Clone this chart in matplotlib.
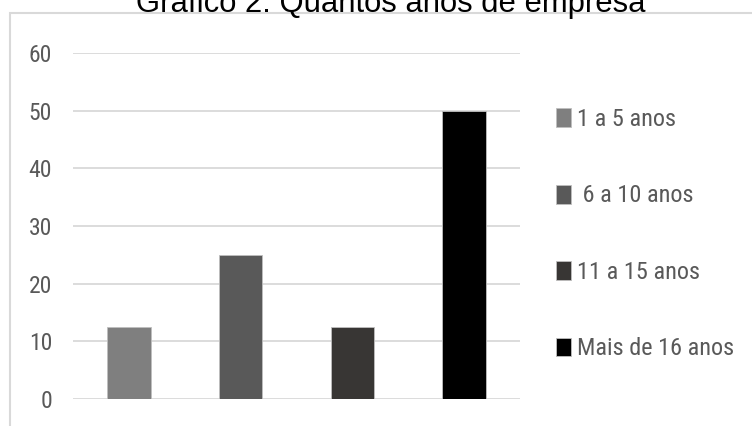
import matplotlib
matplotlib.use("Agg")
import matplotlib.pyplot as plt
from matplotlib.patches import Rectangle

categories = ["1 a 5 anos", " 6 a 10 anos", "11 a 15 anos", "Mais de 16 anos"]
values = [12.5, 25, 12.5, 50]
colors = ["#7f7f7f", "#595959", "#383634", "#000000"]
yticks = [0, 10, 20, 30, 40, 50, 60]

NARROW = ["Roboto Condensed", "Lato", "DejaVu Sans"]
W, H = 752, 426

fig = plt.figure(figsize=(W / 100, H / 100), dpi=100)
ax = fig.add_axes([73 / W, 1 - 399 / H, 447 / W, 346 / H])

for i, (cat, v, c) in enumerate(zip(categories, values, colors)):
    ax.bar(i, v, width=0.39, color=c, edgecolor="#bfbfbf",
           linewidth=0.6, label=cat, zorder=3)

ax.set_xlim(-0.5, len(categories) - 0.5)
ax.set_ylim(0, 60)
ax.set_yticks(yticks)
ax.set_yticklabels([str(t) for t in yticks], family=NARROW,
                   fontsize=17, color="#595959")
ax.tick_params(axis="y", length=0, pad=15)
ax.set_xticks([])
for s in ax.spines.values():
    s.set_visible(False)
ax.grid(axis="y", color="#d9d9d9", linewidth=1.3, zorder=0)

fs = 17.5
fpx = fs * 100 / 72
leg = ax.legend(loc="upper left", bbox_to_anchor=(556 / W, 1 - 108 / H),
                bbox_transform=fig.transFigure, frameon=False,
                prop={"family": NARROW, "size": fs},
                borderpad=0, borderaxespad=0,
                labelspacing=2.2, handlelength=15 / fpx,
                handleheight=20 / fpx, handletextpad=6 / fpx)
for t in leg.get_texts():
    t.set_color("#595959")

# outer chart frame
fig.patches.append(Rectangle((10 / W, -0.05), 1.0, 1 - 13 / H + 0.05,
                             transform=fig.transFigure, fill=False,
                             edgecolor="#d9d9d9", linewidth=1.5))

fig.text(391 / W, 1 - 12 / H, "Gráfico 2: Quantos anos de empresa",
         ha="center", va="baseline", fontsize=22.3,
         family="Liberation Sans", color="black")

fig.savefig("out.png", dpi=100)
